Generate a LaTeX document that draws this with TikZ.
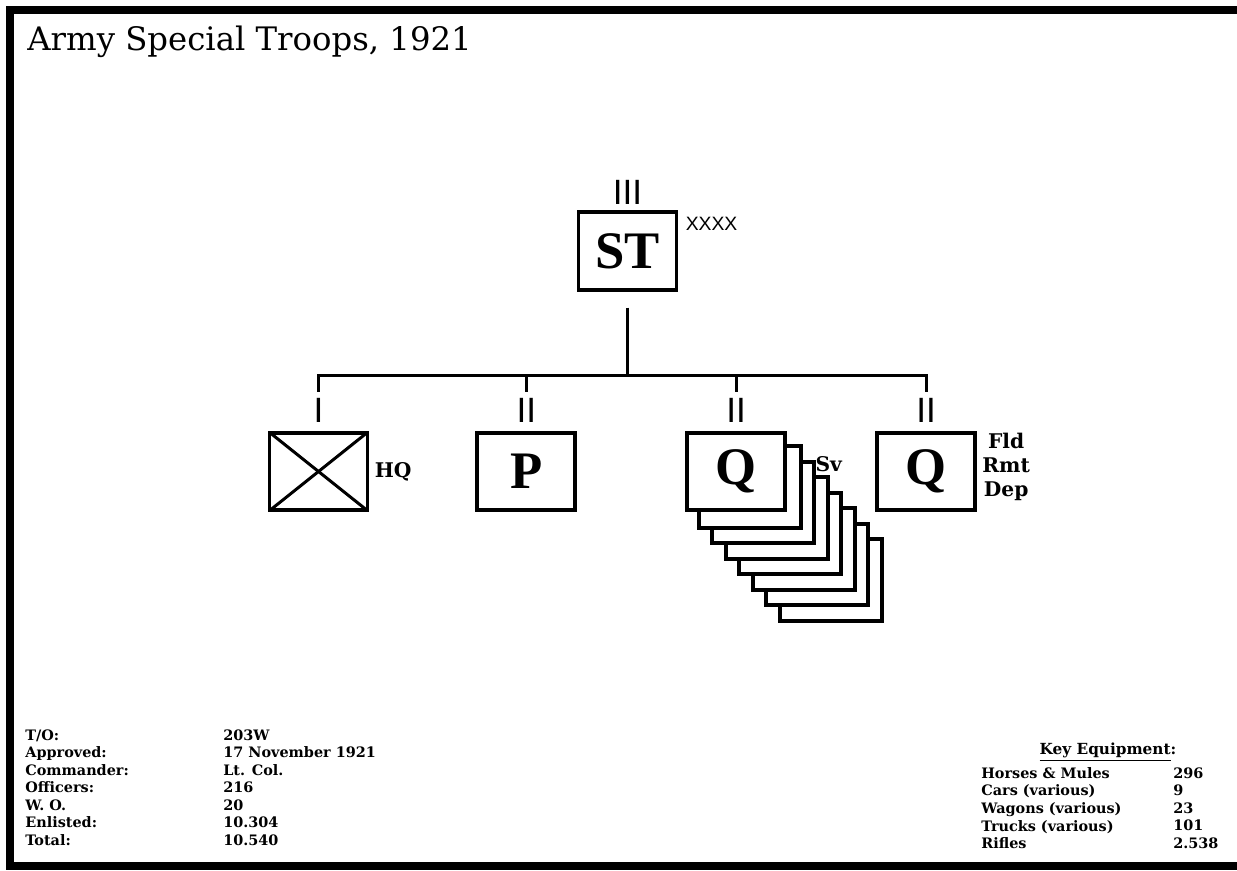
\documentclass[tikz,border=0pt]{standalone}
\usepackage{fontspec}
\setmainfont{DejaVu Serif}
\setsansfont{Liberation Sans}
\newfontfamily\boxfont{Liberation Serif}
\usepackage{tikz}
\usetikzlibrary{
positioning,
calc,
backgrounds
}

\begin{document}
\begin{tikzpicture}[
unit/.style={
draw,
line width=2.2pt,
fill=white,
minimum width=1.96cm,
minimum height=1.55cm,
inner sep=0pt,
font=\boxfont\bfseries\fontsize{30}{30}\selectfont
},
echelon/.style={inner sep=0pt,font=\sffamily\fontsize{20}{20}\selectfont},
conn/.style={line width=1.7pt},
tag/.style={inner sep=0pt,align=center,font=\bfseries\fontsize{11.5}{13.6}\selectfont},
stats/.style={inner sep=0pt,align=left,anchor=north west,font=\bfseries\fontsize{8.2}{10}\selectfont}
]

\useasboundingbox (0,0) rectangle (24.74,-17.40);
\draw[line width=4.5pt] (25,-0.2) -- (0.2,-0.2) -- (0.2,-17.32) -- (25,-17.32);

\node[anchor=base west,inner sep=0pt,font=\fontsize{18.4}{20}\selectfont] (title) at (0.54,-1.0) {Army Special Troops, 1921};

% command
\node[unit] (st) at (12.55,-5.02) {ST};
\node[echelon,above=0.1cm of st] (stmark) {III};
\node[anchor=west,inner sep=0pt,font=\sffamily\fontsize{11}{11}\selectfont] (stsize) at ([shift={(0.14cm,-0.28cm)}]st.north east) {XXXX};

% subordinate units
\node[unit] (hq) at (6.37,-9.43) {};
\node[unit,right=2.12cm of hq] (p) {P};
\node[unit,right=2.16cm of p] (sv) {Q};
\node[unit,right=1.76cm of sv] (rmt) {Q};

\node[echelon,above=0.16cm of hq] (hqmark) {I};
\node[echelon,above=0.16cm of p] (pmark) {II};
\node[echelon,above=0.16cm of sv] (svmark) {II};
\node[echelon,above=0.16cm of rmt] (rmtmark) {II};

\node[tag,right=0.1cm of hq] (hqlabel) {HQ};
\node[tag,anchor=west] (svlabel) at ([shift={(0.56cm,-0.66cm)}]sv.north east) {Sv};
\node[tag,right=0.1cm of rmt,yshift=0.09cm] (rmtlabel) {Fld\\Rmt\\Dep};

\draw[conn,shorten <=1.5pt,shorten >=1.5pt] (hq.north west) -- (hq.south east);
\draw[conn,shorten <=1.5pt,shorten >=1.5pt] (hq.south west) -- (hq.north east);

% service companies behind
\begin{scope}[on background layer]
\foreach \k in {7,...,1}
\draw[line width=2.2pt,fill=white] ([shift={(\k*0.27cm,-\k*0.31cm)}]sv.south west) rectangle ([shift={(\k*0.27cm,-\k*0.31cm)}]sv.north east);
\end{scope}

% connectors
\coordinate (hqtap) at ([yshift=0.12cm]hqmark.north);
\coordinate (ptap) at ([yshift=0.12cm]pmark.north);
\coordinate (svtap) at ([yshift=0.12cm]svmark.north);
\coordinate (rmttap) at ([yshift=0.12cm]rmtmark.north);
\coordinate (bus) at ([yshift=0.32cm]hqtap);

\draw[conn] (hqtap) -- (bus) -| (rmttap);
\draw[conn] (ptap) -- (ptap |- bus);
\draw[conn] (svtap) -- (svtap |- bus);
\draw[conn] ([yshift=-0.32cm]st.south) -- (st.south |- bus);

% strength and equipment
\node[stats] (tolabels) at (0.5,-14.58) {T/O:\\Approved:\\Commander:\\Officers:\\W. O.\\Enlisted:\\Total:};
\node[stats] (tovalues) at (4.46,-14.58) {203W\\17 November 1921\\Lt. Col.\\216\\20\\10.304\\10.540};

\node[inner sep=0pt,font=\bfseries\fontsize{8.7}{10}\selectfont] (keyhead) at (22.16,-15.04) {\underline{Key Equipment}:};
\node[stats] (eqlabels) at (19.62,-15.34) {Horses \& Mules\\Cars (various)\\Wagons (various)\\Trucks (various)\\Rifles};
\node[stats] (eqvalues) at (23.46,-15.34) {296\\9\\23\\101\\2.538};

\end{tikzpicture}
\end{document}
